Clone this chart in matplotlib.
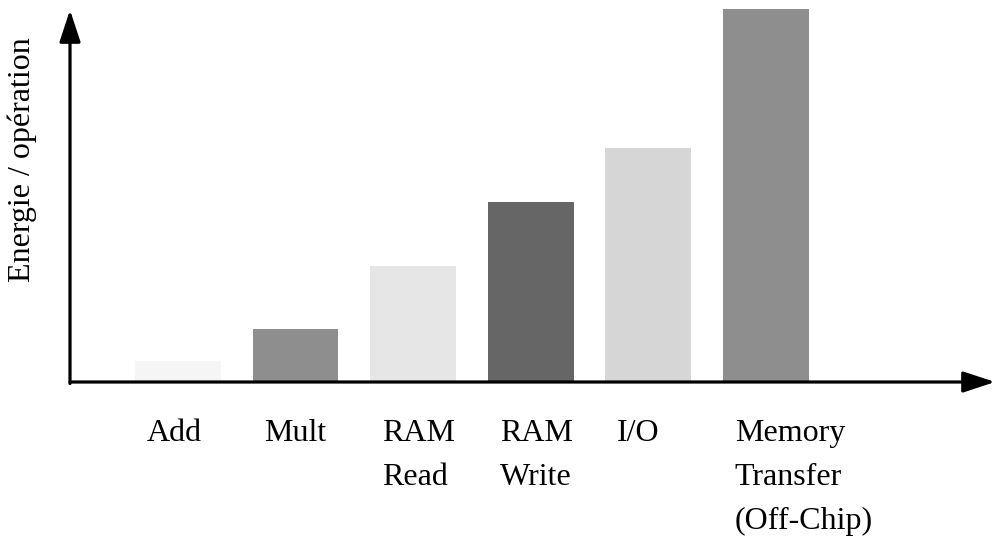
import matplotlib
matplotlib.use("Agg")
import matplotlib.pyplot as plt

plt.rcParams['font.family'] = ['Liberation Serif', 'DejaVu Serif']

operations = ["Add", "Mult", "RAM\nRead", "RAM\nWrite", "I/O", "Memory\nTransfer\n(Off-Chip)"]
energy = [21, 53, 116, 180, 234, 373]
bar_colors = ["#f5f5f5", "#8e8e8e", "#e6e6e6", "#666666", "#d6d6d6", "#8e8e8e"]

fig = plt.figure(figsize=(9.95, 5.40), dpi=100)
# axis origin at pixel (70, 382), top at y=7
ax = fig.add_axes([70 / 995, 158 / 540, 925 / 995, 375 / 540])

x = list(range(len(operations)))
ax.bar(x, energy, width=0.73, color=bar_colors, zorder=1)

ax.set_xlim(-0.918, 6.948)
ax.set_ylim(0, 375)
for s in ax.spines.values():
    s.set_visible(False)
ax.set_xticks([])
ax.set_yticks([])

# axes with arrows
arrow = dict(arrowstyle="-|>,head_length=1.15,head_width=0.38", color="black",
             lw=2.3, mutation_scale=17, shrinkA=0, shrinkB=0)
ax.annotate("", xy=(1.0, 0), xytext=(0, 0), xycoords="axes fraction",
            arrowprops=arrow, annotation_clip=False, zorder=3)
ax.annotate("", xy=(0, 0.992), xytext=(0, -0.004), xycoords="axes fraction",
            arrowprops=arrow, annotation_clip=False, zorder=3)

for xi, lab in zip(x, operations):
    ax.text(xi - 0.265, -37, lab, ha="left", va="top", fontsize=23,
            linespacing=1.68, clip_on=False)

fig.text(22 / 995, 1 - 160 / 540, "Energie / opération", rotation=90,
         ha="center", va="center", fontsize=23)

fig.savefig("out.png", dpi=100)
